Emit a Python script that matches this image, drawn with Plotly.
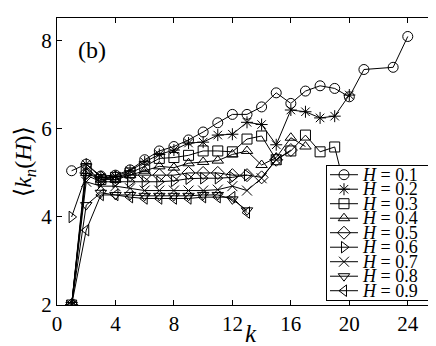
import plotly.graph_objects as go

# <k_n(H)> against k, one series per Hurst exponent H
h_values = ["0.1", "0.2", "0.3", "0.4", "0.5", "0.6", "0.7", "0.8", "0.9"]
symbols = ["circle-open", "asterisk-open", "square-open", "triangle-up-open", "diamond-open",
           "triangle-right-open", "x-thin-open", "triangle-down-open", "triangle-left-open"]

k_h01 = list(range(1, 22)) + [23, 24]
y_h01 = [5.05, 5.2, 4.93, 4.95, 5.07, 5.3, 5.5, 5.6, 5.75, 5.93, 6.14, 6.33, 6.33, 6.5,
         6.82, 6.58, 6.86, 6.98, 6.92, 6.73, 7.35, 7.4, 8.1]
k_h02 = list(range(1, 21))
y_h02 = [2.0, 5.2, 4.9, 4.92, 5.05, 5.25, 5.42, 5.52, 5.68, 5.7, 5.86, 5.88, 6.15, 6.1,
         5.64, 6.43, 6.39, 6.25, 6.29, 6.77]
k_h03 = list(range(1, 21))
y_h03 = [2.0, 5.1, 4.85, 4.9, 5.0, 5.15, 5.33, 5.35, 5.4, 5.5, 5.5, 5.48, 5.77, 5.84,
         5.3, 5.5, 5.86, 5.48, 5.59, 4.25]
k_h04 = list(range(1, 18))
y_h04 = [2.0, 5.0, 4.85, 4.85, 4.95, 5.05, 5.15, 5.12, 5.22, 5.25, 5.28, 5.42, 5.5, 5.18,
         5.35, 5.8, 5.6]
k_h05 = list(range(1, 17))
y_h05 = [2.0, 5.0, 4.9, 4.9, 4.95, 4.95, 4.95, 4.95, 5.0, 5.0, 5.0, 4.95, 4.95, 4.9,
         5.3, 5.52]
k_h06 = list(range(1, 14))
y_h06 = [4.0, 4.95, 4.8, 4.8, 4.8, 4.8, 4.8, 4.82, 4.87, 4.88, 4.88, 4.9, 4.95]
k_h07 = list(range(1, 16))
y_h07 = [2.0, 4.8, 4.7, 4.7, 4.65, 4.6, 4.6, 4.6, 4.6, 4.6, 4.62, 4.7, 4.6, 4.88, 5.3]
k_h08 = list(range(1, 14))
y_h08 = [2.0, 4.27, 4.55, 4.5, 4.5, 4.48, 4.48, 4.48, 4.48, 4.5, 4.5, 4.4, 4.15]
k_h09 = list(range(1, 14))
y_h09 = [2.0, 3.7, 4.5, 4.5, 4.45, 4.42, 4.42, 4.42, 4.42, 4.45, 4.45, 4.45, 4.1]

series = [(k_h01, y_h01), (k_h02, y_h02), (k_h03, y_h03), (k_h04, y_h04), (k_h05, y_h05),
          (k_h06, y_h06), (k_h07, y_h07), (k_h08, y_h08), (k_h09, y_h09)]

x_ticks = [0, 4, 8, 12, 16, 20, 24]
y_ticks = [2, 4, 6, 8]

SERIF = "Liberation Serif, Times New Roman, DejaVu Serif, serif"

fig = go.Figure()
for (k, y), h, sym in zip(series, h_values, symbols):
    fig.add_trace(go.Scatter(
        x=k, y=y, mode="lines+markers", name=f"H = {h}",
        line=dict(color="black", width=1),
        marker=dict(symbol=sym, size=10, color="black", line=dict(width=1, color="black")),
        showlegend=False,
    ))

# hand-built legend in an inset subplot so its rows can be as tight as the original
row0, row_step = 8.7, 14.5
for i, (h, sym) in enumerate(zip(h_values, symbols)):
    yy = row0 + row_step * i
    fig.add_trace(go.Scatter(x=[3, 31], y=[yy, yy], mode="lines", xaxis="x2", yaxis="y2",
                             line=dict(color="black", width=1), showlegend=False,
                             hoverinfo="skip"))
    fig.add_trace(go.Scatter(x=[17], y=[yy], mode="markers", xaxis="x2", yaxis="y2",
                             marker=dict(symbol=sym, size=10, color="black",
                                         line=dict(width=1, color="black")),
                             showlegend=False, hoverinfo="skip"))
    fig.add_annotation(x=33, y=yy, xref="x2", yref="y2", text=f"<i>H</i> = {h}",
                       showarrow=False, xanchor="left", yanchor="middle",
                       font=dict(family=SERIF, size=18, color="black"))

axis_common = dict(showline=True, linecolor="black", linewidth=1, mirror="ticks",
                   ticks="inside", ticklen=5, tickcolor="black", showgrid=False,
                   zeroline=False, tickfont=dict(family=SERIF, size=21, color="black"))

fig.update_layout(
    width=436, height=346,
    margin=dict(l=49, r=7, t=10, b=49),
    paper_bgcolor="white", plot_bgcolor="white",
    showlegend=False,
    xaxis=dict(range=[0, 26], tickvals=x_ticks, domain=[0, 1], ticklabelstandoff=0,
               **axis_common),
    yaxis=dict(range=[2, 8.52], tickvals=y_ticks, domain=[0, 1], ticklabelstandoff=0,
               **axis_common),
    xaxis2=dict(domain=[0.7105, 0.9842], range=[0, 104], anchor="y2", showline=True,
                linecolor="black", linewidth=1, mirror=True, showticklabels=False,
                ticks="", showgrid=False, zeroline=False, fixedrange=True),
    yaxis2=dict(domain=[0.0174, 0.4843], range=[134, 0], anchor="x2", showline=True,
                linecolor="black", linewidth=1, mirror=True, showticklabels=False,
                ticks="", showgrid=False, zeroline=False, fixedrange=True),
)

fig.add_annotation(x=0.51, y=-0.1, xref="paper", yref="paper", text="<i>k</i>",
                   showarrow=False, xanchor="center", yanchor="middle",
                   font=dict(family=SERIF, size=25, color="black"))
fig.add_annotation(x=0.05, y=0.888, xref="paper", yref="paper", text="(b)",
                   showarrow=False, xanchor="left", yanchor="middle",
                   font=dict(family=SERIF, size=24, color="black"))
fig.add_annotation(x=-0.085, y=0.5, xref="paper", yref="paper",
                   text="⟨<i>k</i><sub><i>n</i></sub>(<i>H</i>)⟩", textangle=-90,
                   showarrow=False, xanchor="center", yanchor="middle",
                   font=dict(family=SERIF, size=24, color="black"))

fig.write_html("out.html")
